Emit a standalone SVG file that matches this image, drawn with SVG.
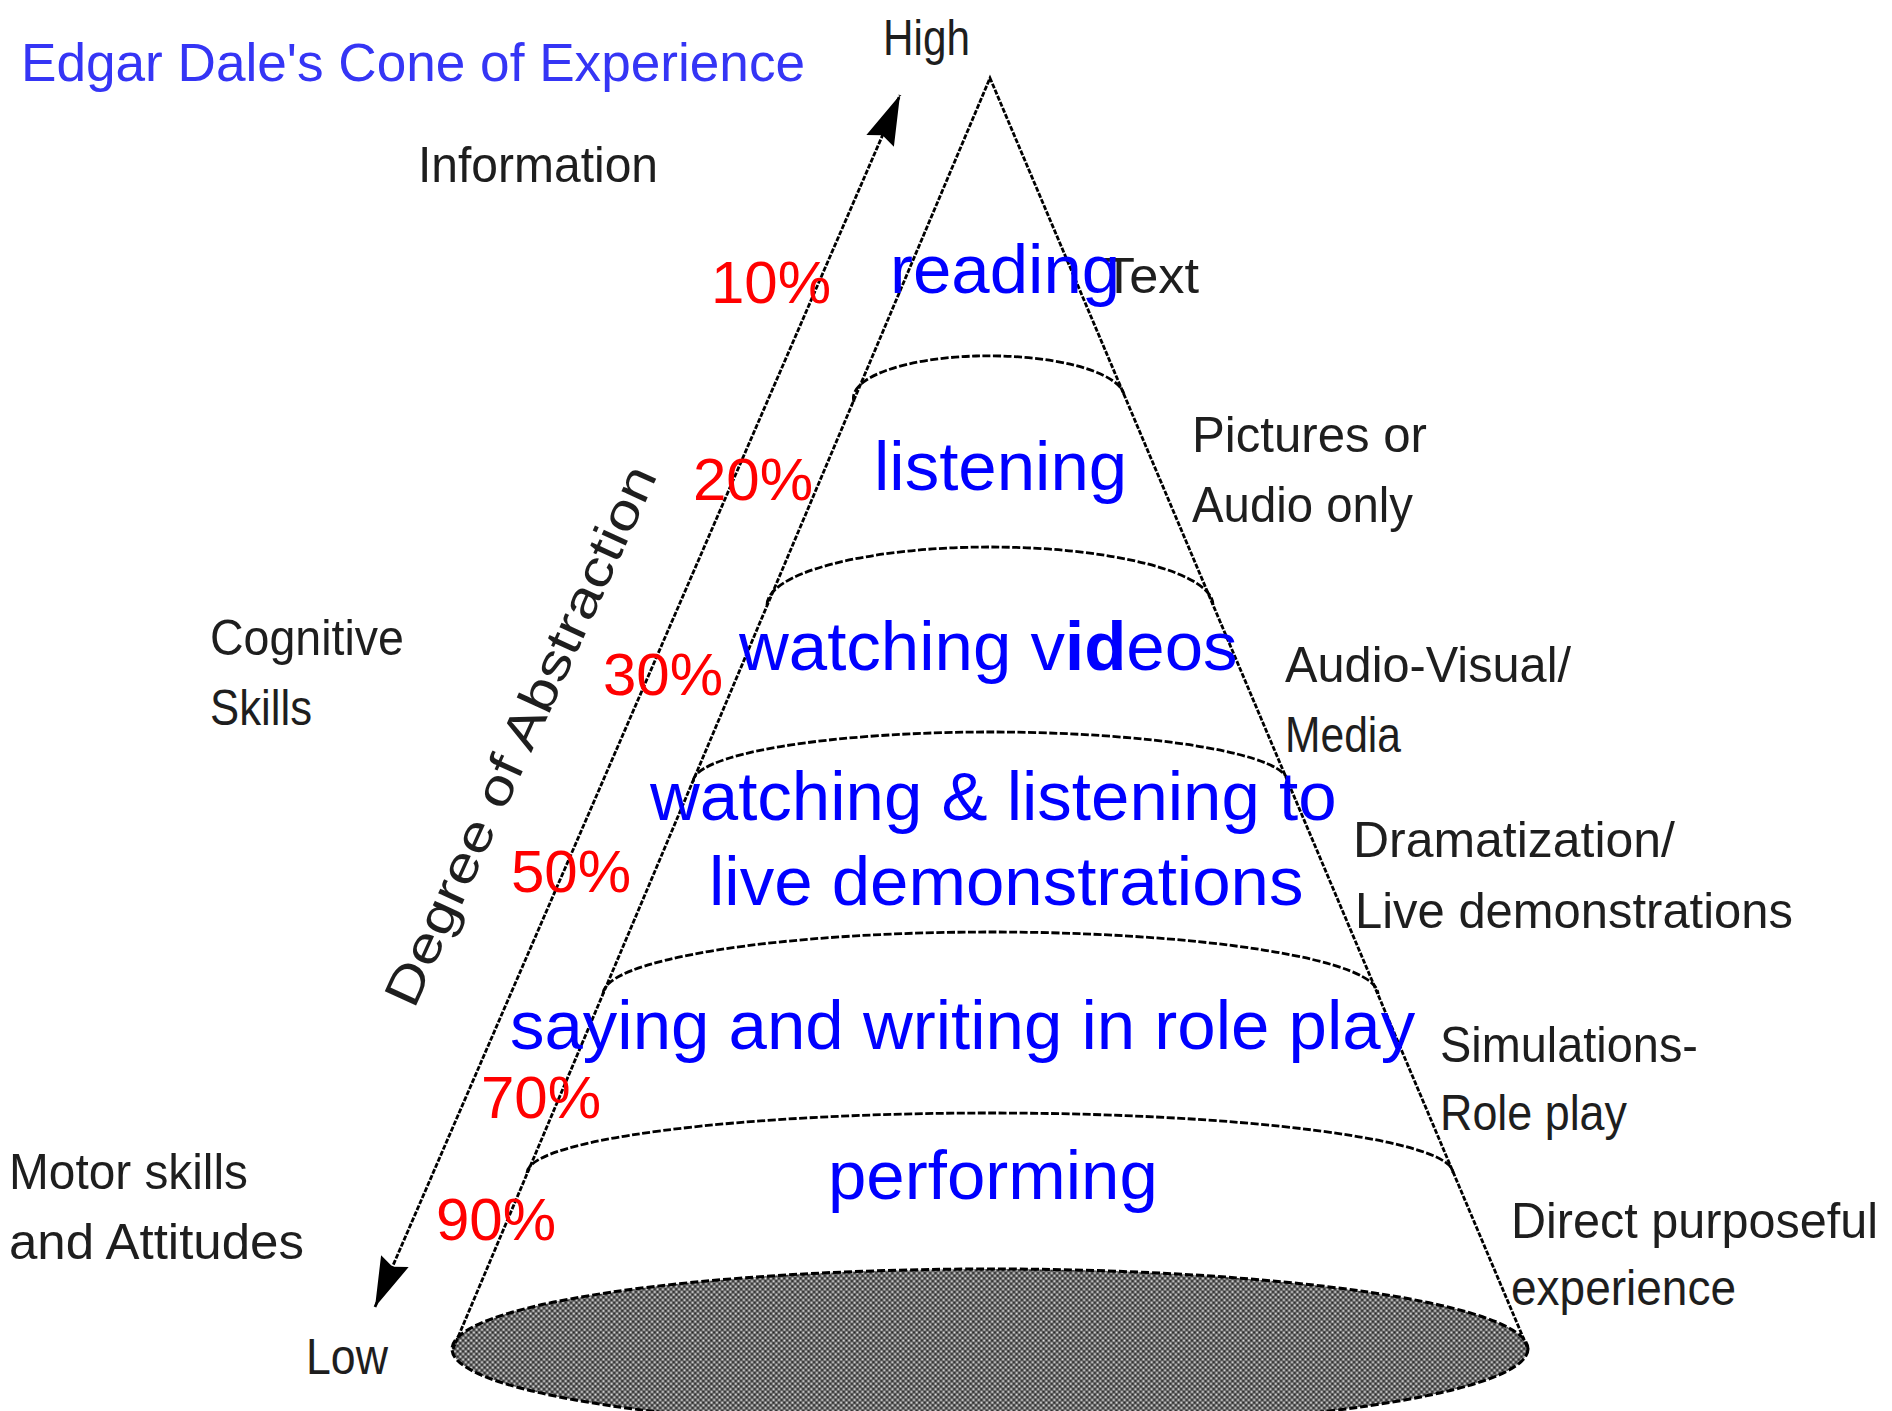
<svg xmlns="http://www.w3.org/2000/svg" width="1892" height="1411" viewBox="0 0 1892 1411">
  <style>
    .title { font-family: "Liberation Sans", Arial, sans-serif; font-size: 53px; fill: #3535f5; }
    .lbl { font-family: "Liberation Sans", Arial, sans-serif; font-size: 50px; fill: #1e1e1e; }
    .layer { font-family: "Liberation Sans", Arial, sans-serif; font-size: 69px; fill: #0000ff; }
    .pct { font-family: "Liberation Sans", Arial, sans-serif; font-size: 60px; fill: #ff0000; }
    .edge { fill: none; stroke: #000; stroke-width: 2.8; stroke-dasharray: 5 1.6; }
    .arc { fill: none; stroke: #000; stroke-width: 2.8; stroke-dasharray: 8 2.5; }
  </style>
  <defs>
    <!-- fine dithered texture of the cone base -->
    <pattern id="dither" width="5.4" height="5.4" patternUnits="userSpaceOnUse">
      <rect width="5.4" height="5.4" fill="#5c5c5c"/>
      <rect x="0.5" y="0.5" width="1.8" height="1.8" fill="#e6e6e6"/>
      <rect x="3.2" y="3.2" width="1.8" height="1.8" fill="#e6e6e6"/>
      <rect x="3.2" y="0.5" width="1.6" height="1.6" fill="#222"/>
      <rect x="0.5" y="3.2" width="1.6" height="1.6" fill="#222"/>
    </pattern>
    <marker id="head" markerUnits="userSpaceOnUse" markerWidth="60" markerHeight="40" refX="50" refY="20" orient="auto-start-reverse">
      <path d="M50,20 L0,5 L6,20 L0,35 Z" fill="#000"/>
    </marker>
  </defs>

  <rect width="1892" height="1411" fill="#fff"/>

  <text class="title" x="21" y="81" textLength="784" lengthAdjust="spacingAndGlyphs">Edgar Dale's Cone of Experience</text>

  <!-- cone body: base ellipse, sides and layer boundaries -->
  <g id="cone">
    <ellipse cx="990" cy="1349" rx="538" ry="80" fill="url(#dither)" stroke="#000" stroke-width="3" stroke-dasharray="8 3"/>
    <path class="edge" d="M453,1349 L990,78 L1528,1349"/>
    <path class="arc" d="M854,402 A135,42 0 0 1 1124,394"/>
    <path class="arc" d="M767,605 A223,58 0 0 1 1213,605"/>
    <path class="arc" d="M693,782 A297.5,50 0 0 1 1288,782"/>
    <path class="arc" d="M603,994 A387.5,62 0 0 1 1378,994"/>
    <path class="arc" d="M527,1173 A463,60 0 0 1 1453,1173"/>
  </g>

  <!-- abstraction axis -->
  <g id="connectors">
    <line class="edge" x1="375" y1="1307" x2="900" y2="95" marker-start="url(#head)" marker-end="url(#head)"/>
  </g>

  <g id="axis-labels">
    <text class="lbl" x="883" y="55" textLength="87" lengthAdjust="spacingAndGlyphs">High</text>
    <text class="lbl" x="306" y="1374" textLength="82" lengthAdjust="spacingAndGlyphs">Low</text>
    <text class="lbl" transform="translate(414,1010) rotate(-65.5)" font-size="40" textLength="588" lengthAdjust="spacingAndGlyphs">Degree of Abstraction</text>
  </g>

  <g id="outcomes">
    <text class="lbl" x="418" y="182" textLength="240" lengthAdjust="spacingAndGlyphs">Information</text>
    <text class="lbl" x="210" y="655" textLength="194" lengthAdjust="spacingAndGlyphs">Cognitive</text>
    <text class="lbl" x="210" y="725" textLength="102" lengthAdjust="spacingAndGlyphs">Skills</text>
    <text class="lbl" x="9" y="1189" textLength="239" lengthAdjust="spacingAndGlyphs">Motor skills</text>
    <text class="lbl" x="9" y="1259" textLength="295" lengthAdjust="spacingAndGlyphs">and Attitudes</text>
  </g>

  <g id="media">
    <text class="lbl" x="1103" y="293" textLength="96" lengthAdjust="spacingAndGlyphs">Text</text>
    <text class="lbl" x="1192" y="452" textLength="235" lengthAdjust="spacingAndGlyphs">Pictures or</text>
    <text class="lbl" x="1192" y="522" textLength="221" lengthAdjust="spacingAndGlyphs">Audio only</text>
    <text class="lbl" x="1285" y="682" textLength="286" lengthAdjust="spacingAndGlyphs">Audio-Visual/</text>
    <text class="lbl" x="1285" y="752" textLength="116" lengthAdjust="spacingAndGlyphs">Media</text>
    <text class="lbl" x="1353" y="857" textLength="322" lengthAdjust="spacingAndGlyphs">Dramatization/</text>
    <text class="lbl" x="1355" y="928" textLength="438" lengthAdjust="spacingAndGlyphs">Live demonstrations</text>
    <text class="lbl" x="1440" y="1062" textLength="258" lengthAdjust="spacingAndGlyphs">Simulations-</text>
    <text class="lbl" x="1440" y="1130" textLength="187" lengthAdjust="spacingAndGlyphs">Role play</text>
    <text class="lbl" x="1511" y="1238" textLength="367" lengthAdjust="spacingAndGlyphs">Direct purposeful</text>
    <text class="lbl" x="1511" y="1305" textLength="225" lengthAdjust="spacingAndGlyphs">experience</text>
  </g>

  <g id="activities">
    <text class="layer" x="890" y="293">reading</text>
    <text class="layer" x="874" y="490">listening</text>
    <text class="layer" x="739" y="670">watching v<tspan font-weight="bold">id</tspan>eos</text>
    <text class="layer" x="650" y="820">watching &amp; listening to</text>
    <text class="layer" x="709" y="905">live demonstrations</text>
    <text class="layer" x="510" y="1049">saying and writing in role play</text>
    <text class="layer" x="828" y="1199">performing</text>
  </g>

  <g id="retention">
    <text class="pct" x="711" y="303">10%</text>
    <text class="pct" x="693" y="500">20%</text>
    <text class="pct" x="603" y="695">30%</text>
    <text class="pct" x="511" y="892">50%</text>
    <text class="pct" x="481" y="1118">70%</text>
    <text class="pct" x="436" y="1240">90%</text>
  </g>
</svg>
